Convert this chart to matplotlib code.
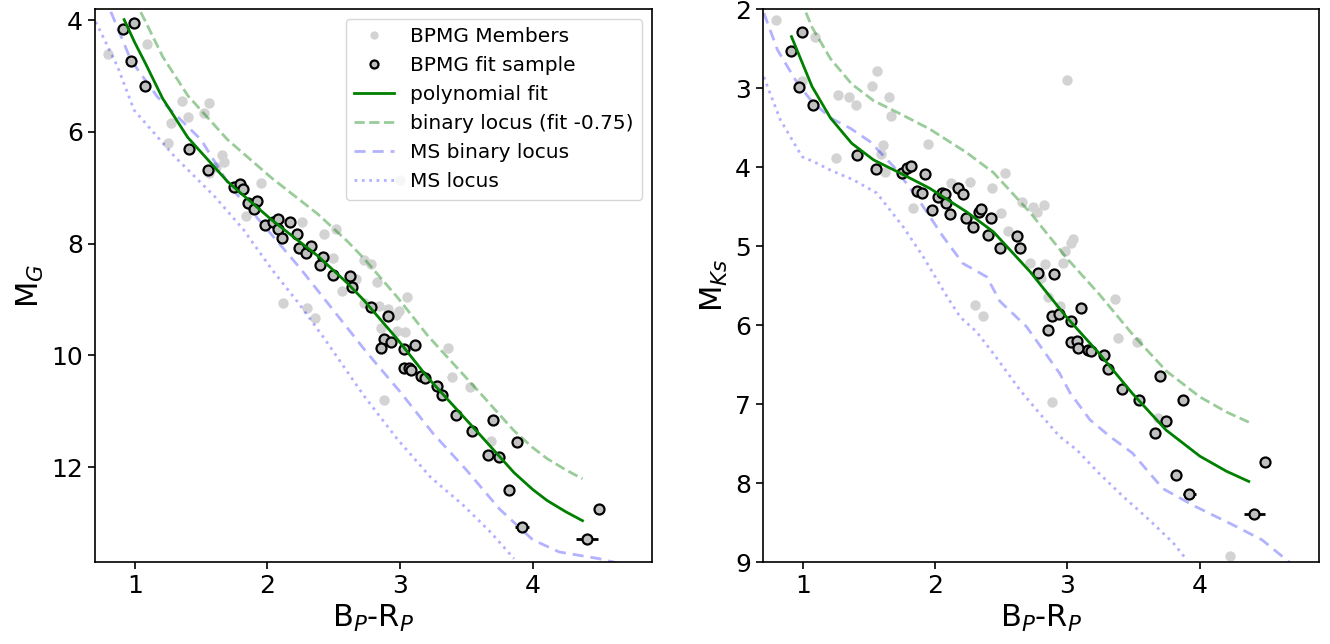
import matplotlib
matplotlib.use("Agg")
import matplotlib.pyplot as plt

# ---------------- Gaia G panel ----------------
# all BPMG members (grey)
mem_g_x = [0.80, 1.09, 1.36, 1.56, 1.40, 1.52, 1.27, 1.25, 1.66, 1.67, 1.61, 1.56, 1.95,
           1.84, 2.26, 2.43, 2.52, 2.495, 2.73, 2.67, 2.56, 2.78, 2.83, 3.05, 3.00,
           2.12, 2.30, 2.36, 2.73, 2.84, 2.91, 2.97, 2.99, 2.855, 2.98, 3.04, 3.36,
           3.39, 3.53, 2.88, 3.69]
mem_g_y = [4.61, 4.43, 5.45, 5.49, 5.73, 5.67, 5.84, 6.20, 6.41, 6.53, 6.62, 6.74, 6.92,
           7.50, 7.62, 7.82, 7.74, 8.26, 8.30, 8.64, 8.85, 8.36, 8.69, 8.95, 6.86,
           9.06, 9.15, 9.33, 9.06, 9.12, 9.17, 9.27, 9.21, 9.51, 9.57, 9.58, 9.875,
           10.38, 10.57, 10.80, 11.54]

# stars used in the fit
fit_g_x = [0.915, 0.998, 0.97, 1.075, 1.41, 1.55, 1.75, 1.79, 1.82, 1.855, 1.925, 1.90,
           1.98, 2.04, 2.08, 2.08, 2.11, 2.17, 2.22, 2.24, 2.29, 2.33, 2.42, 2.40, 2.495,
           2.62, 2.64, 2.78, 2.91, 2.88, 2.855, 2.935, 3.03, 3.11, 3.03, 3.07, 3.08, 3.16,
           3.19, 3.28, 3.32, 3.42, 3.54, 3.705, 3.66, 3.75, 3.88, 3.82, 3.92, 4.41, 4.50]
fit_g_y = [4.15, 4.05, 4.73, 5.17, 6.31, 6.68, 6.99, 6.93, 7.02, 7.27, 7.23, 7.38,
           7.67, 7.62, 7.56, 7.74, 7.90, 7.62, 7.82, 8.08, 8.17, 8.04, 8.24, 8.38, 8.57,
           8.58, 8.77, 9.14, 9.29, 9.71, 9.86, 9.77, 9.89, 9.82, 10.22, 10.22, 10.26, 10.37,
           10.40, 10.54, 10.71, 11.07, 11.35, 11.16, 11.78, 11.82, 11.55, 12.41, 13.08, 13.29, 12.75]

# fit-sample stars with visible colour uncertainties
err_g_x = [3.92, 4.41, 4.50]
err_g_y = [13.08, 13.29, 12.75]
err_g_dx = [0.05, 0.08, 0.03]

# polynomial fit, sampled
poly_g_x = [0.92, 1.00, 1.08, 1.21, 1.40, 1.70, 2.03, 2.38, 2.60, 2.73, 2.98, 3.21, 3.36,
            3.61, 3.86, 4.00, 4.11, 4.25, 4.376]
poly_g_y = [3.99, 4.40, 4.77, 5.40, 6.10, 6.89, 7.57, 8.22, 8.70, 9.02, 9.71, 10.40, 10.79,
            11.44, 12.10, 12.40, 12.60, 12.80, 12.96]

# main-sequence loci
msb_g_x = [0.82, 0.97, 1.17, 1.50, 1.72, 2.00, 2.25, 2.50, 2.75, 3.00, 3.25, 3.50,
           3.75, 4.00, 4.20, 4.50, 4.70]
msb_g_y = [3.85, 4.71, 5.37, 6.14, 6.98, 7.75, 8.45, 9.20, 9.95, 10.65, 11.40, 12.05,
           12.75, 13.30, 13.52, 13.64, 13.75]
ms_g_x = [0.706, 0.87, 0.995, 1.30, 1.60, 1.82, 2.03, 2.23, 2.43, 2.73, 2.98, 3.23,
          3.48, 3.685, 3.86]
ms_g_y = [4.03, 4.83, 5.61, 6.44, 7.15, 7.75, 8.45, 9.05, 9.70, 10.73, 11.5, 12.18,
          12.69, 13.17, 13.64]

# ---------------- 2MASS Ks panel ----------------
mem_k_x = [0.80, 1.09, 0.995, 1.27, 1.35, 1.40, 1.25, 1.52, 1.56, 1.655, 1.67, 1.61,
           1.59, 1.62, 1.83, 1.95, 2.12, 2.26, 2.43, 2.495, 2.53, 2.55, 2.66, 2.72,
           3.00, 2.74, 2.77, 2.82, 2.83, 2.80, 2.97, 2.985, 3.03, 3.04, 3.36, 2.85,
           2.94, 3.385, 3.525, 2.88, 3.685, 4.23, 2.30, 2.36]
mem_k_y = [2.14, 2.35, 2.91, 3.09, 3.12, 3.215, 3.88, 2.98, 2.78, 3.11, 3.35, 3.72,
           3.835, 4.06, 4.52, 3.71, 4.20, 4.19, 4.27, 4.58, 4.08, 4.81, 4.44, 5.22,
           2.90, 4.50, 4.565, 4.48, 5.23, 5.40, 5.22, 5.06, 4.96, 4.915, 5.67, 5.64,
           5.76, 6.17, 6.21, 6.97, 7.18, 8.93, 5.75, 5.88]

fit_k_x = [0.915, 0.995, 0.97, 1.075, 1.41, 1.55, 1.75, 1.79, 1.82, 1.92, 1.86, 1.90,
           1.975, 2.025, 2.05, 2.075, 2.08, 2.11, 2.175, 2.21, 2.23, 2.29, 2.33, 2.345,
           2.42, 2.40, 2.49, 2.615, 2.64, 2.78, 2.90, 3.105, 2.88, 2.935, 2.855, 3.025,
           3.025, 3.07, 3.08, 3.155, 3.18, 3.275, 3.31, 3.415, 3.54, 3.70, 3.745, 3.66,
           3.875, 3.82, 3.92, 4.41, 4.49]
fit_k_y = [2.53, 2.29, 2.99, 3.215, 3.85, 4.02, 4.07, 4.01, 3.99, 4.09, 4.30, 4.325,
           4.54, 4.375, 4.325, 4.34, 4.46, 4.59, 4.26, 4.34, 4.64, 4.755, 4.565, 4.535,
           4.65, 4.865, 5.02, 4.87, 5.03, 5.34, 5.355, 5.78, 5.88, 5.86, 6.06, 5.95,
           6.22, 6.20, 6.29, 6.31, 6.33, 6.38, 6.56, 6.81, 6.95, 6.65, 7.215, 7.37,
           6.95, 7.90, 8.14, 8.39, 7.74]

err_k_x = [3.92, 4.41, 4.49]
err_k_y = [8.14, 8.39, 7.74]
err_k_dx = [0.05, 0.08, 0.03]

poly_k_x = [0.915, 1.07, 1.21, 1.37, 1.535, 1.74, 1.96, 2.24, 2.44, 2.72, 2.99, 3.24,
            3.49, 3.745, 4.00, 4.20, 4.37]
poly_k_y = [2.35, 2.98, 3.38, 3.70, 3.91, 4.08, 4.27, 4.57, 4.82, 5.33, 5.895, 6.36,
            6.865, 7.33, 7.66, 7.85, 7.98]

msb_k_x = [0.706, 0.81, 0.96, 1.06, 1.21, 1.36, 1.51, 1.69, 1.86, 2.06, 2.21, 2.39,
           2.49, 2.69, 2.94, 3.02, 3.17, 3.32, 3.49, 3.72, 3.97, 4.25, 4.47, 4.675]
msb_k_y = [2.05, 2.52, 2.94, 3.15, 3.38, 3.51, 3.68, 4.00, 4.375, 4.88, 5.22, 5.39,
           5.70, 6.02, 6.61, 6.86, 7.20, 7.41, 7.62, 8.07, 8.30, 8.53, 8.72, 9.0]
ms_k_x = [0.706, 0.83, 0.995, 1.08, 1.21, 1.38, 1.56, 1.76, 1.91, 2.09, 2.19, 2.31,
          2.44, 2.64, 2.79, 2.94, 3.07, 3.24, 3.42, 3.62, 3.80, 3.90]
ms_k_y = [2.86, 3.40, 3.87, 3.93, 4.04, 4.16, 4.33, 4.76, 5.135, 5.64, 5.90, 6.08,
          6.36, 6.82, 7.12, 7.41, 7.58, 7.88, 8.17, 8.47, 8.76, 8.97]

binary_offset = 0.75

g_ticks = [4, 6, 8, 10, 12]
k_ticks = [2, 3, 4, 5, 6, 7, 8, 9]


def draw_panel(ax, mem_x, mem_y, fit_x, fit_y, ex, ey, edx,
               px, py, bx, by, mx, my, with_legend):
    ax.plot(mem_x, mem_y, 'o', color='lightgrey', ms=7.5, mew=0,
            label='BPMG Members', zorder=1)
    ax.errorbar(ex, ey, xerr=edx, fmt='none', ecolor='black', elinewidth=2,
                capsize=0, zorder=3)
    ax.plot(fit_x, fit_y, 'o', mfc='silver', mec='black', ms=7.2, mew=1.6,
            label='BPMG fit sample', zorder=4)
    ax.plot(px, py, '-', color='green', lw=2, label='polynomial fit', zorder=5)
    ax.plot(px, [v - binary_offset for v in py], '--', color='green', alpha=0.4,
            lw=2, label='binary locus (fit -0.75)', zorder=2)
    ax.plot(bx, by, '--', color='blue', alpha=0.3, lw=2, dashes=(4, 2.5),
            label='MS binary locus', zorder=2)
    ax.plot(mx, my, ':', color='blue', alpha=0.3, lw=2,
            label='MS locus', zorder=2)
    ax.set_xlim(0.7, 4.9)
    ax.tick_params(labelsize=18, width=1.2, length=5)
    ax.set_xlabel('B$_P$-R$_P$', fontsize=22)
    for s in ax.spines.values():
        s.set_linewidth(1.2)
    if with_legend:
        ax.legend(loc='upper right', fontsize=14.5, framealpha=0.8,
                  markerscale=0.8)


fig = plt.figure(figsize=(13.3, 6.44), dpi=100)
ax1 = fig.add_axes([0.0714, 0.1273, 0.4188, 0.8587])
ax2 = fig.add_axes([0.5737, 0.1273, 0.418, 0.8587])

draw_panel(ax1, mem_g_x, mem_g_y, fit_g_x, fit_g_y, err_g_x, err_g_y, err_g_dx,
           poly_g_x, poly_g_y, msb_g_x, msb_g_y, ms_g_x, ms_g_y, True)
ax1.set_ylim(13.7, 3.8)
ax1.set_yticks(g_ticks)
ax1.set_ylabel('M$_G$', fontsize=22)

draw_panel(ax2, mem_k_x, mem_k_y, fit_k_x, fit_k_y, err_k_x, err_k_y, err_k_dx,
           poly_k_x, poly_k_y, msb_k_x, msb_k_y, ms_k_x, ms_k_y, False)
ax2.set_ylim(9, 2)
ax2.set_yticks(k_ticks)
ax2.set_ylabel('M$_{Ks}$', fontsize=22)

fig.savefig('out.png', dpi=100)
